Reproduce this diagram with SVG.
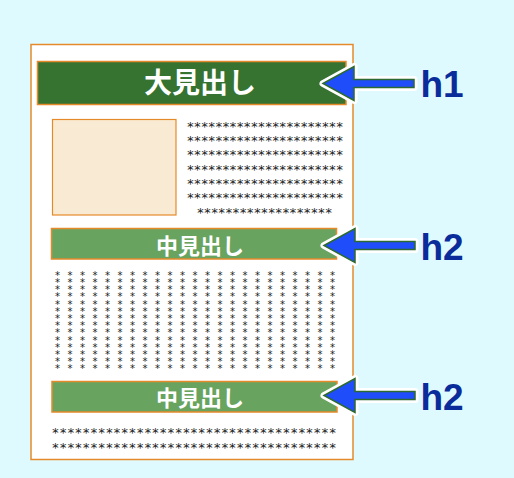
<svg xmlns="http://www.w3.org/2000/svg" width="514" height="478" viewBox="0 0 514 478">
<defs>
<style>
.bar{stroke:#e58a2a;stroke-width:1.5}
.head{font-family:"Noto Sans CJK JP","Noto Sans",sans-serif;font-weight:bold;fill:#ffffff;text-anchor:middle}
.ast{font-family:"DejaVu Sans Mono","Liberation Mono",monospace;fill:#222222}
.lbl{font-family:"Liberation Sans",Arial,sans-serif;font-weight:bold;font-size:37px;fill:#0a2b9a}
.halo{fill:#ffffff;stroke:#ffffff;stroke-width:7;stroke-linejoin:round}
.arr{fill:#1f4dfa;stroke:#2d6a30;stroke-width:1.5;stroke-linejoin:miter}
</style>
<polygon id="arrowShape" points="0,0 31,-17 31,-4 91,-4 91,4 31,4 31,17"/>
</defs>
<rect x="0" y="0" width="514" height="478" fill="#dffaff"/>
<g id="page">
<rect x="31" y="44.5" width="322" height="415" fill="#ffffff" stroke="#e58a2a" stroke-width="1.5"/>
</g>
<g id="h1-bar">
<rect class="bar" x="37.5" y="61.5" width="308.5" height="43" fill="#367230"/>
<text class="head" x="200" y="93" font-size="28">大見出し</text>
</g>
<g id="image-box">
<rect x="52.5" y="119.5" width="123.5" height="95.5" fill="#f9ebd3" stroke="#e58a2a" stroke-width="1.2"/>
</g>
<g id="text-right" class="ast" font-size="13">
<text x="186.5" y="130.7" textLength="157" lengthAdjust="spacing">**********************</text>
<text x="186.5" y="145" textLength="157" lengthAdjust="spacing">**********************</text>
<text x="186.5" y="159.3" textLength="157" lengthAdjust="spacing">**********************</text>
<text x="186.5" y="173.6" textLength="157" lengthAdjust="spacing">**********************</text>
<text x="186.5" y="187.9" textLength="157" lengthAdjust="spacing">**********************</text>
<text x="186.5" y="202.2" textLength="157" lengthAdjust="spacing">**********************</text>
<text x="196.5" y="217" textLength="136" lengthAdjust="spacing">*******************</text>
</g>
<g id="h2-bar-1">
<rect class="bar" x="51.5" y="228.5" width="285" height="30.5" fill="#68a460"/>
<text class="head" x="200" y="253.5" font-size="22">中見出し</text>
</g>
<g id="text-dense">
<text class="ast" font-size="10" letter-spacing="6.48"><tspan x="54.5" y="278.7">***********************</tspan><tspan x="54.5" y="285.9">***********************</tspan><tspan x="54.5" y="293.1">***********************</tspan><tspan x="54.5" y="300.3">***********************</tspan><tspan x="54.5" y="307.5">***********************</tspan><tspan x="54.5" y="314.7">***********************</tspan><tspan x="54.5" y="321.9">***********************</tspan><tspan x="54.5" y="329.1">***********************</tspan><tspan x="54.5" y="336.3">***********************</tspan><tspan x="54.5" y="343.5">***********************</tspan><tspan x="54.5" y="350.7">***********************</tspan><tspan x="54.5" y="357.9">***********************</tspan><tspan x="54.5" y="365.1">***********************</tspan><tspan x="54.5" y="372.3">***********************</tspan></text>
</g>
<g id="h2-bar-2">
<rect class="bar" x="52" y="381.5" width="285" height="30.5" fill="#68a460"/>
<text class="head" x="200" y="405.5" font-size="22">中見出し</text>
</g>
<g id="text-bottom" class="ast" font-size="13">
<text x="51.5" y="437.4" textLength="285" lengthAdjust="spacing">*************************************</text>
<text x="51.5" y="452.4" textLength="285" lengthAdjust="spacing">*************************************</text>
</g>
<g id="connectors">
<use href="#arrowShape" class="halo" transform="translate(323,83.5)"/>
<use href="#arrowShape" class="arr" transform="translate(323,83.5)"/>
<use href="#arrowShape" class="halo" transform="translate(324,245.5)"/>
<use href="#arrowShape" class="arr" transform="translate(324,245.5)"/>
<use href="#arrowShape" class="halo" transform="translate(324,395.5)"/>
<use href="#arrowShape" class="arr" transform="translate(324,395.5)"/>
</g>
<g id="label-h1"><text class="lbl" x="420.5" y="97">h1</text></g>
<g id="label-h2-1"><text class="lbl" x="420.5" y="259.5">h2</text></g>
<g id="label-h2-2"><text class="lbl" x="420.5" y="409.5">h2</text></g>
</svg>
